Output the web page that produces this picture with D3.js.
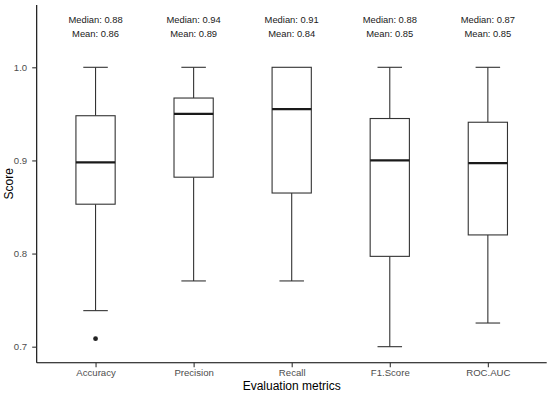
<!DOCTYPE html>
<html><head><meta charset="utf-8">
<script src="https://cdn.jsdelivr.net/npm/d3@7"></script>
<style>body{margin:0;background:#fff}text{font-family:"Liberation Sans",Arial,sans-serif}</style>
</head><body><svg id="c" width="550" height="394"></svg>
<script>
const categories = ["Accuracy","Precision","Recall","F1.Score","ROC.AUC"];
const lowerWhisker = [0.7387, 0.7706, 0.7706, 0.700, 0.7254];
const q1 = [0.853, 0.882, 0.865, 0.797, 0.820];
const median = [0.898, 0.950, 0.955, 0.900, 0.897];
const q3 = [0.948, 0.967, 1.000, 0.945, 0.941];
const upperWhisker = [1.000, 1.000, 1.000, 1.000, 1.000];
const outliers = [[0.7086], [], [], [], []];
const medianLabels = ["0.88","0.94","0.91","0.88","0.87"];
const meanLabels = ["0.86","0.89","0.84","0.85","0.85"];
const yTicks = [0.7, 0.8, 0.9, 1.0];

const svg = d3.select("#c");
const pLeft = 36.7, pRight = 546.7, pTop = 5, pBottom = 362.7;
const x = d3.scalePoint().domain(categories).range([pLeft, pRight]).padding(0.6);
const unit = x.step();
const y = d3.scaleLinear().domain([0.6828, 1.0669]).range([pBottom, pTop]);

const g = svg.append("g");
const stroke = "#333333";
categories.forEach((c, i) => {
  const cx = x(c);
  const bw = unit * 0.4, cw = unit * 0.25;
  if (upperWhisker[i] > q3[i]) {
    g.append("line").attr("x1", cx).attr("x2", cx).attr("y1", y(q3[i])).attr("y2", y(upperWhisker[i])).attr("stroke", stroke).attr("stroke-width", 1.1);
    g.append("line").attr("x1", cx - cw/2).attr("x2", cx + cw/2).attr("y1", y(upperWhisker[i])).attr("y2", y(upperWhisker[i])).attr("stroke", stroke).attr("stroke-width", 1.1);
  }
  g.append("line").attr("x1", cx).attr("x2", cx).attr("y1", y(q1[i])).attr("y2", y(lowerWhisker[i])).attr("stroke", stroke).attr("stroke-width", 1.1);
  g.append("line").attr("x1", cx - cw/2).attr("x2", cx + cw/2).attr("y1", y(lowerWhisker[i])).attr("y2", y(lowerWhisker[i])).attr("stroke", stroke).attr("stroke-width", 1.1);
  g.append("rect").attr("x", cx - bw/2).attr("width", bw).attr("y", y(q3[i])).attr("height", y(q1[i]) - y(q3[i]))
    .attr("fill", "#fff").attr("stroke", stroke).attr("stroke-width", 1.1);
  g.append("line").attr("x1", cx - bw/2).attr("x2", cx + bw/2).attr("y1", y(median[i])).attr("y2", y(median[i])).attr("stroke", "#1a1a1a").attr("stroke-width", 2.2);
  outliers[i].forEach(v => g.append("circle").attr("cx", cx).attr("cy", y(v)).attr("r", 2.4).attr("fill", "#222"));
  g.append("text").attr("x", cx).attr("y", 22.8).attr("text-anchor", "middle").attr("font-size", 9.4).attr("fill", "#1a1a1a").text("Median: " + medianLabels[i]);
  g.append("text").attr("x", cx).attr("y", 36.8).attr("text-anchor", "middle").attr("font-size", 9.4).attr("fill", "#1a1a1a").text("Mean: " + meanLabels[i]);
});

const xa = svg.append("g").attr("transform", `translate(0,${pBottom})`).call(d3.axisBottom(x).tickSize(4.5).tickPadding(1.8));
const ya = svg.append("g").attr("transform", `translate(${pLeft},0)`).call(d3.axisLeft(y).tickValues(yTicks).tickFormat(d3.format(".1f")).tickSize(4.5).tickPadding(5));
[xa, ya].forEach(a => {
  a.select(".domain").attr("stroke", "#000").attr("stroke-width", 1.1);
  a.selectAll(".tick line").attr("stroke", "#333").attr("stroke-width", 1.1);
  a.selectAll(".tick text").attr("fill", "#4d4d4d").attr("font-size", 9.6).attr("font-family", '"Liberation Sans",Arial,sans-serif');
});
ya.select(".domain").attr("d", `M0,${pTop}V${pBottom}`);
xa.select(".domain").attr("d", `M${pLeft},0H${pRight}`);

svg.append("text").attr("x", (pLeft + pRight) / 2).attr("y", 389.5).attr("text-anchor", "middle").attr("font-size", 12).attr("fill", "#000").text("Evaluation metrics");
svg.append("text").attr("transform", `translate(12.5,${(pTop + pBottom) / 2}) rotate(-90)`).attr("text-anchor", "middle").attr("font-size", 12).attr("fill", "#000").text("Score");
</script></body></html>
